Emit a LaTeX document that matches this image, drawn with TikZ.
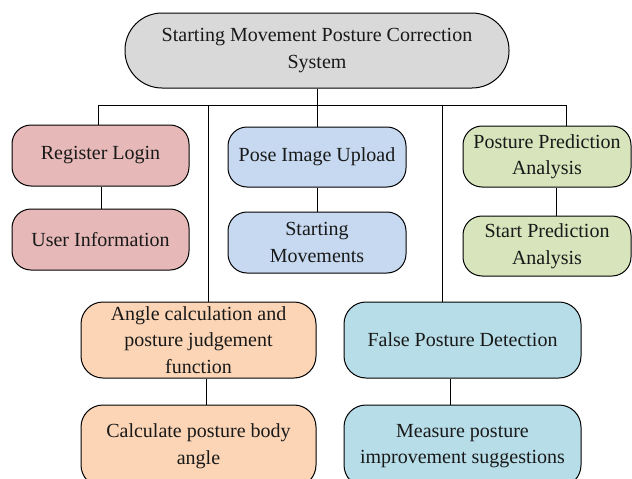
\documentclass[tikz,border=0pt]{standalone}
\usepackage{fontspec}
\setmainfont{Liberation Serif}
\definecolor{cgray}{HTML}{D9D9D9}
\definecolor{cred}{HTML}{E6B9B8}
\definecolor{cblue}{HTML}{C6D9F0}
\definecolor{cgreen}{HTML}{D7E4BC}
\definecolor{corange}{HTML}{FBD5B5}
\definecolor{clblue}{HTML}{B7DDE8}
\begin{document}
\begin{tikzpicture}[x=1pt,y=-1pt,
  box/.style={draw=black, line width=1pt, rounded corners=19pt, align=center,
    inner sep=0pt, text=black!90, font=\fontsize{20}{26.5}\selectfont},
  conn/.style={line width=1pt, draw=black}]
\useasboundingbox (0,0) rectangle (632,479);
\clip (0,0) rectangle (632,479);
\node[box, fill=cgray, rounded corners=37pt, minimum width=384pt, minimum height=75pt] (top) at (317,50.5) {Starting Movement Posture Correction\\System};
\node[box, fill=cred, minimum width=177pt, minimum height=61pt] (reg) at (100.5,155.5) {Register Login};
\node[box, fill=cred, minimum width=177pt, minimum height=61pt] (user) at (100.5,239.5) {User Information};
\node[box, fill=cblue, minimum width=178pt, minimum height=60pt] (pose) at (317,157) {Pose Image Upload};
\node[box, fill=cblue, minimum width=178pt, minimum height=61pt] (start) at (317,242.5) {Starting\\Movements};
\node[box, fill=cgreen, minimum width=168pt, minimum height=61pt] (ppa) at (547,156.5) {Posture Prediction\\Analysis};
\node[box, fill=cgreen, minimum width=168pt, minimum height=60pt] (spa) at (547,246) {Start Prediction\\Analysis};
\node[box, fill=corange, rounded corners=22pt, minimum width=235pt, minimum height=76pt] (angle) at (198.5,340) {Angle calculation and\\posture judgement\\function};
\node[box, fill=corange, rounded corners=22pt, minimum width=235pt, minimum height=82pt] (calc) at (198.5,446) {Calculate posture body\\angle};
\node[box, fill=clblue, rounded corners=22pt, minimum width=237pt, minimum height=76pt] (fpd) at (462.5,340) {False Posture Detection};
\node[box, fill=clblue, rounded corners=22pt, minimum width=237pt, minimum height=82pt] (meas) at (462.5,446) {Measure posture\\improvement suggestions};
% bus
\coordinate (j1) at (98,105);
\coordinate (j2) at (208,105);
\coordinate (j3) at (317,105);
\coordinate (j4) at (442,105);
\coordinate (j5) at (566,105);
\draw[conn] (top.south) -- (j3);
\draw[conn] (j1) -- (j5);
\draw[conn] (j1) -- (j1 |- reg.north);
\draw[conn] (j2) -- (j2 |- angle.north);
\draw[conn] (j3) -- (j3 |- pose.north);
\draw[conn] (j4) -- (j4 |- fpd.north);
\draw[conn] (j5) -- (j5 |- ppa.north);
% inner
\draw[conn] ([xshift=0.5pt]reg.south) -- ([xshift=0.5pt]reg.south |- user.north);
\draw[conn] (pose.south) -- (start.north);
\draw[conn] ([xshift=9pt]ppa.south) -- ([xshift=9pt]ppa.south |- spa.north);
\draw[conn] ([xshift=7.5pt]angle.south) -- ([xshift=7.5pt]angle.south |- calc.north);
\draw[conn] ([xshift=-12.5pt]fpd.south) -- ([xshift=-12.5pt]fpd.south |- meas.north);
\end{tikzpicture}
\end{document}
